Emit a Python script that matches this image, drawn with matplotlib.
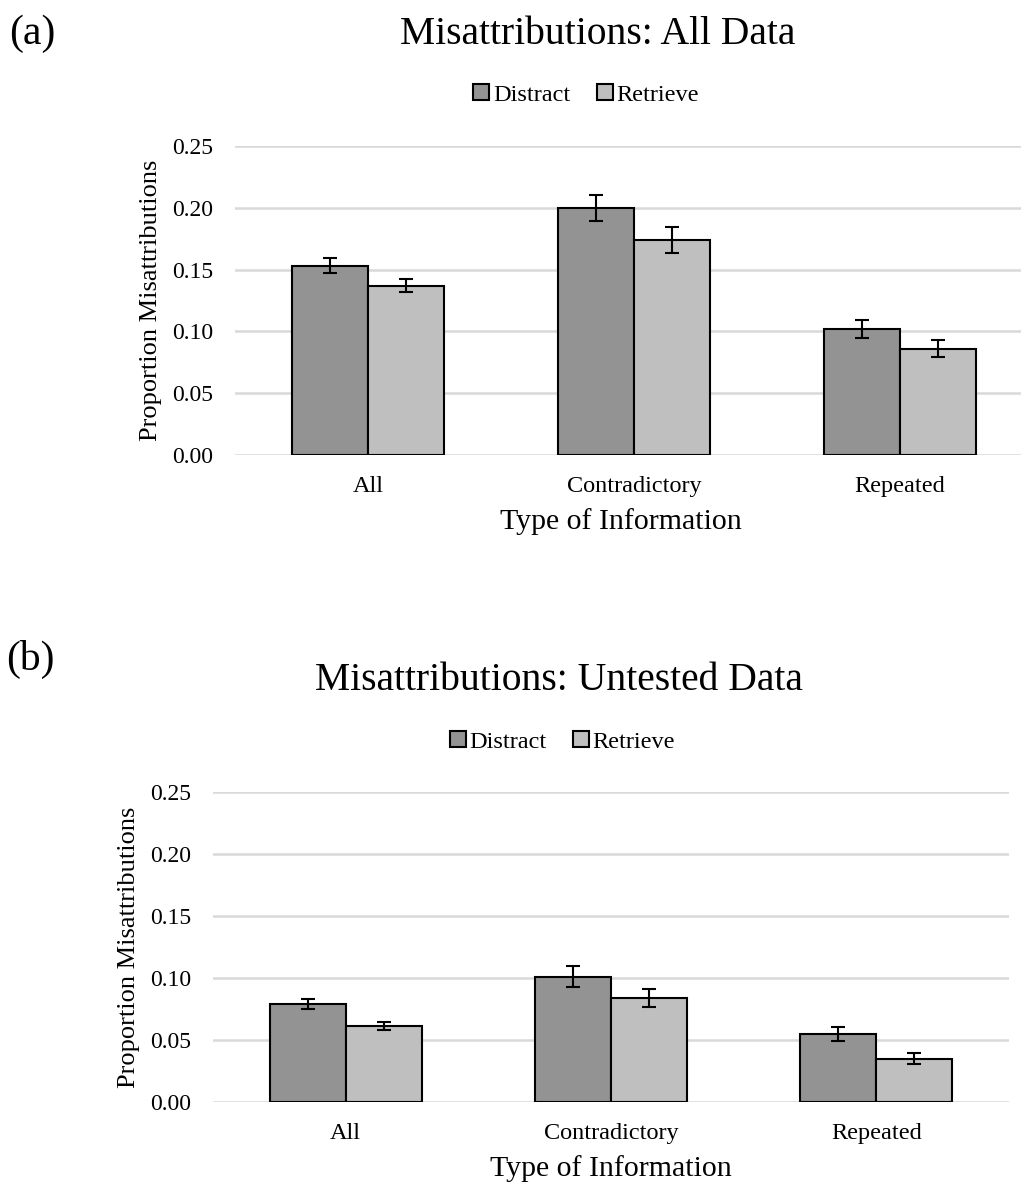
import matplotlib
matplotlib.use("Agg")
from matplotlib import pyplot as plt
from matplotlib.patches import Patch
import numpy as np

plt.rcParams['font.family'] = ['Liberation Serif', 'DejaVu Serif']

# data
categories = ['All', 'Contradictory', 'Repeated']
series = ['Distract', 'Retrieve']

all_distract = [0.153, 0.200, 0.102]
all_distract_err = [0.006, 0.0106, 0.0074]
all_retrieve = [0.137, 0.174, 0.086]
all_retrieve_err = [0.0054, 0.0105, 0.0069]

untested_distract = [0.079, 0.101, 0.055]
untested_distract_err = [0.0043, 0.0085, 0.0055]
untested_retrieve = [0.061, 0.084, 0.035]
untested_retrieve_err = [0.0032, 0.0073, 0.0043]

yticks = [0.00, 0.05, 0.10, 0.15, 0.20, 0.25]

colors = ['#939393', '#bfbfbf']
grid_col = '#d9d9d9'


def draw_panel(ax, distract, d_err, retrieve, r_err, xmax, xlabel_x):
    x = np.arange(len(categories))
    w = 0.286
    ax.bar(x - w / 2, distract, w, color=colors[0], edgecolor='black', linewidth=1.5, zorder=3)
    ax.bar(x + w / 2, retrieve, w, color=colors[1], edgecolor='black', linewidth=1.5, zorder=3)
    ax.errorbar(x - w / 2, distract, yerr=d_err, fmt='none', ecolor='black',
                elinewidth=1.5, capsize=5, capthick=1.5, zorder=4)
    ax.errorbar(x + w / 2, retrieve, yerr=r_err, fmt='none', ecolor='black',
                elinewidth=1.5, capsize=5, capthick=1.5, zorder=4)
    ax.set_ylim(0, 0.25)
    ax.set_xlim(-0.5, xmax)
    ax.set_yticks(yticks)
    ax.set_yticklabels(['%.2f' % t for t in yticks], fontsize=17)
    ax.set_xticks(x)
    ax.set_xticklabels(categories, fontsize=17.5)
    ax.tick_params(length=0, pad=16)
    ax.tick_params(axis='x', pad=15)
    for s in ax.spines.values():
        s.set_visible(False)
    ax.grid(axis='y', color=grid_col, linewidth=1.8, zorder=0)
    ax.set_axisbelow(True)
    ax.set_ylabel('Proportion Misattributions', fontsize=19, labelpad=7)
    ax.set_xlabel('Type of Information', fontsize=21.5)
    ax.xaxis.set_label_coords(xlabel_x, -0.172)


fig = plt.figure(figsize=(10.21, 11.82), dpi=100)

ax1 = fig.add_axes([0.2302, 0.6151, 0.7698, 0.2614])
draw_panel(ax1, all_distract, all_distract_err, all_retrieve, all_retrieve_err, 2.456, 0.491)
ax2 = fig.add_axes([0.2086, 0.0677, 0.7796, 0.2623])
draw_panel(ax2, untested_distract, untested_distract_err, untested_retrieve, untested_retrieve_err, 2.5, 0.5)

handles = [Patch(facecolor=c, edgecolor='black', linewidth=1.5) for c in colors]

fig.text(0.585, 1 - 35 / 1182, 'Misattributions: All Data', fontsize=28.5, ha='center', va='center')
fig.legend(handles, series, loc='center', bbox_to_anchor=(0.574, 1 - 95 / 1182), ncol=2,
           frameon=False, fontsize=17.5, handlelength=0.65, handleheight=0.65,
           handletextpad=0.15, columnspacing=1.1)

fig.text(0.547, 1 - 681 / 1182, 'Misattributions: Untested Data', fontsize=28.5, ha='center', va='center')
fig.legend(handles, series, loc='center', bbox_to_anchor=(0.551, 1 - 742 / 1182), ncol=2,
           frameon=False, fontsize=17.5, handlelength=0.65, handleheight=0.65,
           handletextpad=0.15, columnspacing=1.1)

fig.text(0.009, 1 - 34 / 1182, '(a)', fontsize=30, ha='left', va='center')
fig.text(0.006, 1 - 659 / 1182, '(b)', fontsize=30, ha='left', va='center')

fig.savefig('out.png', dpi=100)
